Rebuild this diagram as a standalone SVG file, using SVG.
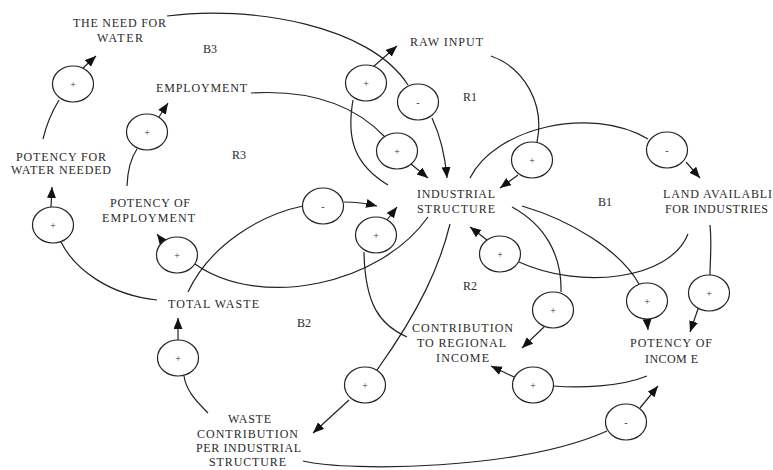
<svg xmlns="http://www.w3.org/2000/svg" width="773" height="470" viewBox="0 0 773 470">
<style>
text{font-family:"Liberation Serif","Times New Roman",serif;font-size:12px;fill:#2a2a2a}
.sg{font-size:10px;text-anchor:middle;fill:#333}
ellipse{fill:#fff;stroke:#222;stroke-width:1.2}
#connectors path{fill:none;stroke:#222;stroke-width:1.2}
#connectors path.a{marker-end:url(#ah)}
</style>
<defs>
<marker id="ah" markerUnits="userSpaceOnUse" markerWidth="12" markerHeight="10" refX="11" refY="4.5" orient="auto">
<path d="M0,0 L11,4.5 L0,9 z" fill="#111"/>
</marker>
</defs>
<rect width="773" height="470" fill="#fff"/>

<g id="connectors">
<path d="M43 139 Q48 118 59 100"/>
<path class="a" d="M83 68 L96 56"/>
<path d="M127 186 Q128 162 137 149"/>
<path class="a" d="M159 117 L168 103"/>
<path d="M353 100 C346 140 355 165 388 185"/>
<path class="a" d="M373 67 L397 46"/>
<path d="M167 16 C250 5 370 25 408 85"/>
<path class="a" d="M432 118 C440 135 445 155 447 178"/>
<path d="M251 93 C300 90 350 100 385 137"/>
<path class="a" d="M411 164 L428 178"/>
<path d="M491 56 C525 68 545 105 537 142"/>
<path class="a" d="M518 175 L500 188"/>
<path d="M470 178 C495 128 590 105 648 139"/>
<path class="a" d="M686 162 L700 178"/>
<path d="M710 225 C712 245 710 260 710 275"/>
<path class="a" d="M698 309 L690 332"/>
<path d="M688 234 C670 280 580 290 519 262"/>
<path class="a" d="M487 240 L470 227"/>
<path d="M512 207 C545 225 562 255 561 292"/>
<path class="a" d="M544 327 L522 348"/>
<path d="M522 206 C570 220 620 250 639 284"/>
<path class="a" d="M647 318 L648 330"/>
<path d="M647 376 C620 387 580 388 553 386"/>
<path class="a" d="M514 377 L491 366"/>
<path d="M303 461 C350 472 520 470 607 431"/>
<path class="a" d="M640 408 L658 386"/>
<path d="M450 224 C440 265 420 310 377 370"/>
<path class="a" d="M349 400 L313 433"/>
<path d="M208 413 C195 400 186 390 184 376"/>
<path class="a" d="M178 340 L178 318"/>
<path d="M157 300 C110 295 75 270 61 242"/>
<path class="a" d="M51 207 L52 187"/>
<path d="M188 292 C210 245 260 215 303 206"/>
<path class="a" d="M344 202 C355 202 365 203 377 206"/>
<path d="M407 337 C380 325 365 305 364 252"/>
<path class="a" d="M387 220 L397 207"/>
<path d="M428 217 C380 285 260 310 195 264"/>
<path class="a" d="M163 242 L157 234"/>
</g>

<g id="signs">
<g id="s1"><ellipse cx="73" cy="84" rx="20.5" ry="18"/><text class="sg" x="73" y="88">+</text></g>
<g id="s2"><ellipse cx="147" cy="132" rx="20.5" ry="18"/><text class="sg" x="147" y="136">+</text></g>
<g id="s3"><ellipse cx="366" cy="83" rx="20.5" ry="18"/><text class="sg" x="366" y="87">+</text></g>
<g id="s4"><ellipse cx="418" cy="102" rx="20.5" ry="18"/><text class="sg" x="418" y="106">-</text></g>
<g id="s5"><ellipse cx="397" cy="151" rx="20.5" ry="18"/><text class="sg" x="397" y="155">+</text></g>
<g id="s6"><ellipse cx="532" cy="160" rx="20.5" ry="18"/><text class="sg" x="532" y="164">+</text></g>
<g id="s7"><ellipse cx="667" cy="150" rx="20.5" ry="18"/><text class="sg" x="667" y="154">-</text></g>
<g id="s8"><ellipse cx="500" cy="254" rx="20.5" ry="18"/><text class="sg" x="500" y="258">+</text></g>
<g id="s9"><ellipse cx="553" cy="310" rx="20.5" ry="18"/><text class="sg" x="553" y="314">+</text></g>
<g id="s10"><ellipse cx="647" cy="301" rx="20.5" ry="18"/><text class="sg" x="647" y="305">+</text></g>
<g id="s11"><ellipse cx="709" cy="293" rx="20.5" ry="18"/><text class="sg" x="709" y="297">+</text></g>
<g id="s12"><ellipse cx="533" cy="385" rx="20.5" ry="18"/><text class="sg" x="533" y="389">+</text></g>
<g id="s13"><ellipse cx="626" cy="422" rx="20.5" ry="18"/><text class="sg" x="626" y="426">-</text></g>
<g id="s14"><ellipse cx="365" cy="385" rx="20.5" ry="18"/><text class="sg" x="365" y="389">+</text></g>
<g id="s15"><ellipse cx="178" cy="358" rx="20.5" ry="18"/><text class="sg" x="178" y="362">+</text></g>
<g id="s16"><ellipse cx="53" cy="225" rx="20.5" ry="18"/><text class="sg" x="53" y="229">+</text></g>
<g id="s17"><ellipse cx="323" cy="206" rx="20.5" ry="18"/><text class="sg" x="323" y="210">-</text></g>
<g id="s18"><ellipse cx="376" cy="235" rx="20.5" ry="18"/><text class="sg" x="376" y="239">+</text></g>
<g id="s19"><ellipse cx="177" cy="255" rx="20.5" ry="18"/><text class="sg" x="177" y="259">+</text></g>
</g>

<g id="need-water"><text x="73" y="27" textLength="93" lengthAdjust="spacing">THE NEED FOR</text><text x="97" y="41.5" textLength="46" lengthAdjust="spacing">WATER</text></g>
<g id="employment"><text x="156" y="92" textLength="91" lengthAdjust="spacing">EMPLOYMENT</text></g>
<g id="raw-input"><text x="410" y="46" textLength="73" lengthAdjust="spacing">RAW INPUT</text></g>
<g id="potency-water"><text x="16" y="160.5" textLength="90" lengthAdjust="spacing">POTENCY FOR</text><text x="11" y="174" textLength="100" lengthAdjust="spacing">WATER NEEDED</text></g>
<g id="potency-employment"><text x="110" y="207" textLength="80" lengthAdjust="spacing">POTENCY OF</text><text x="102" y="222" textLength="93" lengthAdjust="spacing">EMPLOYMENT</text></g>
<g id="industrial-structure"><text x="417" y="197.5" textLength="78" lengthAdjust="spacing">INDUSTRIAL</text><text x="417" y="212.5" textLength="78" lengthAdjust="spacing">STRUCTURE</text></g>
<g id="land"><text x="663" y="198" textLength="109" lengthAdjust="spacing">LAND AVAILABLI</text><text x="665" y="213" textLength="103" lengthAdjust="spacing">FOR INDUSTRIES</text></g>
<g id="total-waste"><text x="168" y="308" textLength="91" lengthAdjust="spacing">TOTAL WASTE</text></g>
<g id="contribution"><text x="412" y="332" textLength="101" lengthAdjust="spacing">CONTRIBUTION</text><text x="417" y="347" textLength="89" lengthAdjust="spacing">TO REGIONAL</text><text x="436" y="362" textLength="53" lengthAdjust="spacing">INCOME</text></g>
<g id="potency-income"><text x="630" y="347" textLength="82" lengthAdjust="spacing">POTENCY OF</text><text x="645" y="363" textLength="53" lengthAdjust="spacing">INCOM E</text></g>
<g id="waste-contribution"><text x="228" y="423" textLength="43" lengthAdjust="spacing">WASTE</text><text x="197" y="437.5" textLength="101" lengthAdjust="spacing">CONTRIBUTION</text><text x="196" y="452" textLength="105" lengthAdjust="spacing">PER INDUSTRIAL</text><text x="209" y="466" textLength="77" lengthAdjust="spacing">STRUCTURE</text></g>

<g id="loops">
<text x="203" y="53">B3</text>
<text x="463" y="101">R1</text>
<text x="232" y="159">R3</text>
<text x="598" y="206">B1</text>
<text x="463" y="290">R2</text>
<text x="297" y="327">B2</text>
</g>
</svg>
